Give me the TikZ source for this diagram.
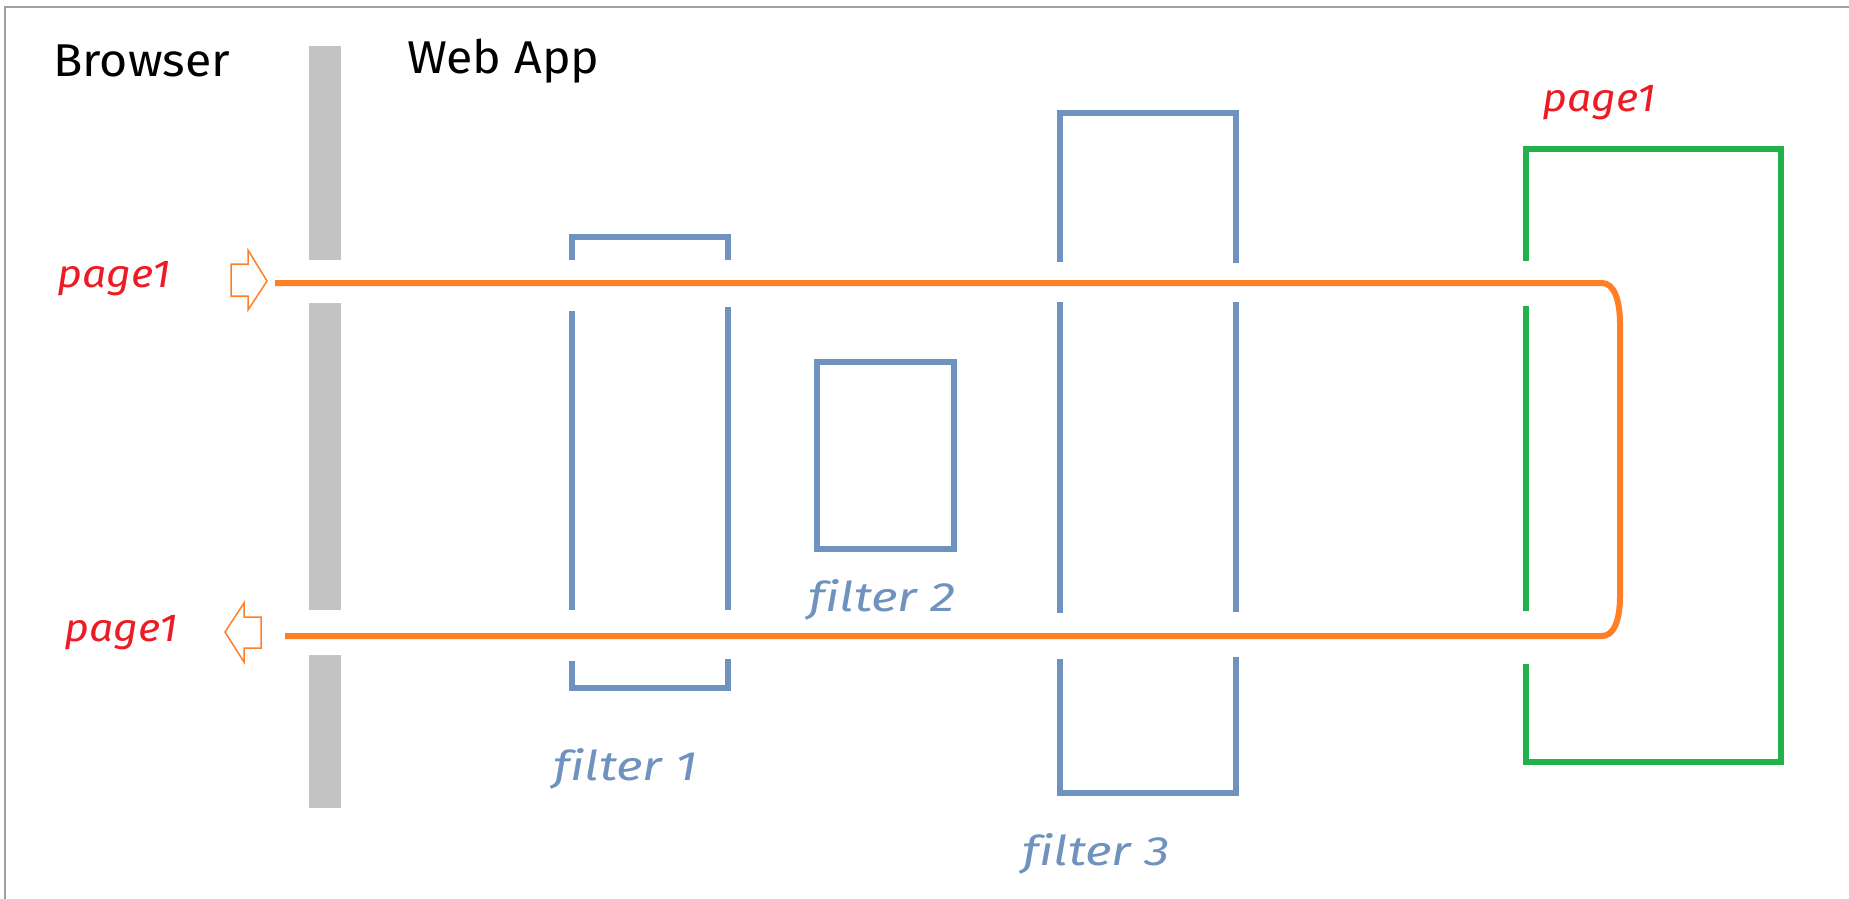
\documentclass[tikz,border=0pt]{standalone}
\usepackage{fontspec}
\setmainfont[Ligatures=NoCommon]{Fira Sans}
\definecolor{flowor}{HTML}{FF7F27}
\definecolor{pagered}{HTML}{ED1C24}
\definecolor{fblue}{HTML}{7092BE}
\definecolor{pgreen}{HTML}{22B14C}
\definecolor{barg}{HTML}{C3C3C3}
\definecolor{frameg}{HTML}{A0A0A0}
\newcommand\titlefnt{\fontsize{46}{52}\selectfont}
\newcommand\pagefnt{\fontsize{39}{46}\selectfont\itshape}
\newcommand\filtfnt{\fontsize{41}{48}\selectfont\itshape}
\begin{document}
\begin{tikzpicture}[x=1pt,y=-1pt,
  bluel/.style={draw=fblue,line width=6pt},
  greenl/.style={draw=pgreen,line width=6pt},
  flowl/.style={draw=flowor,line width=6pt},
  hollowarrow/.style={draw=flowor,fill=white,line width=1.5pt,line join=miter},
  titletext/.style={anchor=base west,inner sep=0pt,text=black,font=\titlefnt},
  pagetext/.style={anchor=base west,inner sep=0pt,text=pagered,font=\pagefnt},
  filttext/.style={anchor=base west,inner sep=0pt,text=fblue,font=\filtfnt}]
\useasboundingbox (0,0) rectangle (1849,899);
\fill[white] (0,0) rectangle (1849,899);
% frame
\draw[frameg,line width=2pt] (5,899) -- (5,7) -- (1849,7);
% browser / web app wall
\fill[barg] (309,46) rectangle (341,260);
\fill[barg] (309,303) rectangle (341,610);
\fill[barg] (309,655) rectangle (341,808);
% titles
\node[titletext] (browser) at (53,76) {\scalebox{1.05}[1]{Browser}};
\node[titletext] (webapp) at (407,74) {\scalebox{1.05}[1]{Web App}};
% filter 1
\draw[bluel] (572,260) -- (572,237) -- (728,237) -- (728,260);
\draw[bluel] (572,311) -- (572,610);
\draw[bluel] (728,307) -- (728,610);
\draw[bluel] (572,661) -- (572,688) -- (728,688) -- (728,659);
% filter 2
\draw[bluel] (817,362) rectangle (954,549);
% filter 3
\draw[bluel] (1060,262) -- (1060,113) -- (1236,113) -- (1236,263);
\draw[bluel] (1060,302) -- (1060,613);
\draw[bluel] (1236,302) -- (1236,612);
\draw[bluel] (1060,659) -- (1060,793) -- (1236,793) -- (1236,657);
% page (green)
\draw[greenl] (1526,261) -- (1526,149) -- (1781,149) -- (1781,762) -- (1526,762) -- (1526,664);
\draw[greenl] (1526,306) -- (1526,611);
% request / response flow
\coordinate (reqstart) at (275,283);
\coordinate (respend) at (285,636);
\draw[flowl] (reqstart) -- (1602,283) .. controls (1614,283) and (1620,300) .. (1620,324)
  -- (1620,596) .. controls (1620,620) and (1614,636) .. (1602,636) -- (respend);
% hollow arrows
\draw[hollowarrow] (231,264) -- (248,264) -- (248,250) -- (267,281) -- (248,310) -- (248,296) -- (231,296) -- cycle;
\draw[hollowarrow] (261,617) -- (244,617) -- (244,603) -- (225,632) -- (244,662) -- (244,648) -- (261,648) -- cycle;
% page labels
\node[pagetext] (pagein) at (57,287) {\scalebox{1.1}[1]{page1}};
\node[pagetext] (pageout) at (64,641) {\scalebox{1.1}[1]{page1}};
\node[pagetext] (pagetop) at (1542,111) {\scalebox{1.1}[1]{page1}};
% filter labels
\node[filttext] (f1) at (553,780) {\scalebox{1.25}[1]{filter 1}};
\node[filttext] (f2) at (808,611) {\scalebox{1.25}[1]{filter 2}};
\node[filttext] (f3) at (1022,865) {\scalebox{1.25}[1]{filter 3}};
\end{tikzpicture}
\end{document}
